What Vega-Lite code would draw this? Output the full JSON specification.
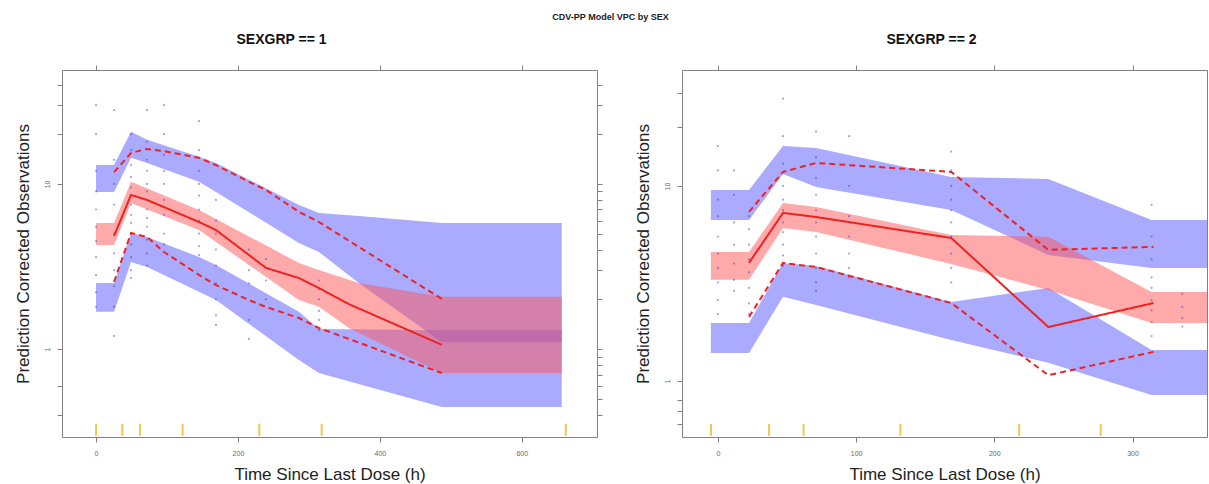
{
"$schema": "https://vega.github.io/schema/vega-lite/v6.json",
"padding": {"left": 13, "right": 0, "top": 13, "bottom": 0},
"title": {"text": "CDV-PP Model VPC by SEX", "fontSize": 9, "fontWeight": "bold", "font": "Liberation Sans", "color": "#222", "anchor": "middle", "offset": 10},
"spacing": 30,
"config": {
  "font": "Liberation Sans",
  "view": {"stroke": "#808080", "strokeWidth": 1},
  "axis": {"domain": false, "grid": false, "tickColor": "#808080", "tickSize": 5, "labelColor": "#666", "labelFontSize": 7, "labelPadding": 7, "titleFontSize": 17, "titleFontWeight": "normal", "titleColor": "#222", "titlePadding": 11, "labelOverlap": false, "labelFlush": false}
},
"datasets": {
  "bands": [
    {"p":1,"b":"hiPI","t":0,"hi":13.0,"lo":8.94},{"p":1,"b":"hiPI","t":25.4,"hi":13.0,"lo":8.94},{"p":1,"b":"hiPI","t":49.3,"hi":20.7,"lo":14.4},{"p":1,"b":"hiPI","t":71.8,"hi":18.5,"lo":13.4},{"p":1,"b":"hiPI","t":145.1,"hi":14.6,"lo":10.3},{"p":1,"b":"hiPI","t":169,"hi":13.4,"lo":8.94},{"p":1,"b":"hiPI","t":285.9,"hi":7.46,"lo":4.39},{"p":1,"b":"hiPI","t":314.1,"hi":6.67,"lo":3.87},{"p":1,"b":"hiPI","t":370.4,"hi":6.40,"lo":2.51},{"p":1,"b":"hiPI","t":487.3,"hi":5.80,"lo":1.10},{"p":1,"b":"hiPI","t":656.3,"hi":5.80,"lo":1.10},
    {"p":1,"b":"med","t":0,"hi":5.80,"lo":4.27},{"p":1,"b":"med","t":25.4,"hi":5.80,"lo":4.27},{"p":1,"b":"med","t":49.3,"hi":10.3,"lo":7.67},{"p":1,"b":"med","t":145.1,"hi":6.96,"lo":5.26},{"p":1,"b":"med","t":285.9,"hi":3.32,"lo":1.98},{"p":1,"b":"med","t":314.1,"hi":3.01,"lo":1.80},{"p":1,"b":"med","t":356.3,"hi":2.63,"lo":1.34},{"p":1,"b":"med","t":370.4,"hi":2.51,"lo":1.25},{"p":1,"b":"med","t":487.3,"hi":2.07,"lo":0.715},{"p":1,"b":"med","t":656.3,"hi":2.07,"lo":0.715},
    {"p":1,"b":"loPI","t":0,"hi":2.51,"lo":1.68},{"p":1,"b":"loPI","t":25.4,"hi":2.51,"lo":1.68},{"p":1,"b":"loPI","t":49.3,"hi":5.05,"lo":3.37},{"p":1,"b":"loPI","t":71.8,"hi":4.77,"lo":3.14},{"p":1,"b":"loPI","t":145.1,"hi":3.61,"lo":2.22},{"p":1,"b":"loPI","t":169,"hi":3.23,"lo":1.98},{"p":1,"b":"loPI","t":285.9,"hi":1.68,"lo":0.858},{"p":1,"b":"loPI","t":314.1,"hi":1.32,"lo":0.715},{"p":1,"b":"loPI","t":487.3,"hi":1.30,"lo":0.445},{"p":1,"b":"loPI","t":656.3,"hi":1.30,"lo":0.445},
    {"p":2,"b":"hiPI","t":-5.1,"hi":9.54,"lo":6.69},{"p":2,"b":"hiPI","t":22.5,"hi":9.54,"lo":6.69},{"p":2,"b":"hiPI","t":47.1,"hi":16.04,"lo":11.52},{"p":2,"b":"hiPI","t":71.0,"hi":15.66,"lo":9.88},{"p":2,"b":"hiPI","t":168.8,"hi":11.12,"lo":7.53},{"p":2,"b":"hiPI","t":239.1,"hi":10.86,"lo":4.43},{"p":2,"b":"hiPI","t":313.8,"hi":6.69,"lo":3.80},{"p":2,"b":"hiPI","t":380,"hi":6.69,"lo":3.80},
    {"p":2,"b":"med","t":-5.1,"hi":4.59,"lo":3.30},{"p":2,"b":"med","t":22.5,"hi":4.59,"lo":3.30},{"p":2,"b":"med","t":47.1,"hi":8.18,"lo":6.09},{"p":2,"b":"med","t":71.0,"hi":7.80,"lo":5.81},{"p":2,"b":"med","t":168.8,"hi":5.61,"lo":3.98},{"p":2,"b":"med","t":239.1,"hi":5.48,"lo":2.93},{"p":2,"b":"med","t":313.8,"hi":2.86,"lo":1.98},{"p":2,"b":"med","t":380,"hi":2.86,"lo":1.98},
    {"p":2,"b":"loPI","t":-5.1,"hi":1.98,"lo":1.39},{"p":2,"b":"loPI","t":22.5,"hi":1.98,"lo":1.39},{"p":2,"b":"loPI","t":47.1,"hi":4.03,"lo":2.70},{"p":2,"b":"loPI","t":71.0,"hi":3.89,"lo":2.45},{"p":2,"b":"loPI","t":168.8,"hi":2.54,"lo":1.62},{"p":2,"b":"loPI","t":239.1,"hi":3.00,"lo":1.24},{"p":2,"b":"loPI","t":313.8,"hi":1.44,"lo":0.848},{"p":2,"b":"loPI","t":380,"hi":1.44,"lo":0.848}
  ],
  "lines": [
    {"p":1,"s":"med","t":25.4,"v":4.84},{"p":1,"s":"med","t":49.3,"v":8.58},{"p":1,"s":"med","t":71.8,"v":8.0},{"p":1,"s":"med","t":145.1,"v":5.88},{"p":1,"s":"med","t":169,"v":5.26},{"p":1,"s":"med","t":239.4,"v":3.10},{"p":1,"s":"med","t":285.9,"v":2.69},{"p":1,"s":"med","t":314.1,"v":2.34},{"p":1,"s":"med","t":356.3,"v":1.87},{"p":1,"s":"med","t":487.3,"v":1.06},
    {"p":1,"s":"p95","t":25.4,"v":11.8},{"p":1,"s":"p95","t":49.3,"v":15.4},{"p":1,"s":"p95","t":71.8,"v":16.3},{"p":1,"s":"p95","t":95.8,"v":15.8},{"p":1,"s":"p95","t":145.1,"v":14.4},{"p":1,"s":"p95","t":169,"v":13.0},{"p":1,"s":"p95","t":215.5,"v":10.3},{"p":1,"s":"p95","t":239.4,"v":9.2},{"p":1,"s":"p95","t":285.9,"v":6.77},{"p":1,"s":"p95","t":314.1,"v":5.88},{"p":1,"s":"p95","t":487.3,"v":2.01},
    {"p":1,"s":"p05","t":25.4,"v":2.55},{"p":1,"s":"p05","t":49.3,"v":5.05},{"p":1,"s":"p05","t":71.8,"v":4.77},{"p":1,"s":"p05","t":95.8,"v":3.87},{"p":1,"s":"p05","t":145.1,"v":2.81},{"p":1,"s":"p05","t":169,"v":2.44},{"p":1,"s":"p05","t":215.5,"v":1.98},{"p":1,"s":"p05","t":239.4,"v":1.80},{"p":1,"s":"p05","t":285.9,"v":1.54},{"p":1,"s":"p05","t":314.1,"v":1.34},{"p":1,"s":"p05","t":487.3,"v":0.715},
    {"p":2,"s":"med","t":22.5,"v":4.03},{"p":2,"s":"med","t":47.1,"v":7.27},{"p":2,"s":"med","t":71.0,"v":6.93},{"p":2,"s":"med","t":168.8,"v":5.41},{"p":2,"s":"med","t":239.1,"v":1.89},{"p":2,"s":"med","t":315.2,"v":2.51},
    {"p":2,"s":"p95","t":22.5,"v":7.36},{"p":2,"s":"p95","t":47.1,"v":11.8},{"p":2,"s":"p95","t":71.0,"v":13.12},{"p":2,"s":"p95","t":168.8,"v":11.8},{"p":2,"s":"p95","t":239.1,"v":4.70},{"p":2,"s":"p95","t":315.2,"v":4.87},
    {"p":2,"s":"p05","t":22.5,"v":2.13},{"p":2,"s":"p05","t":47.1,"v":4.03},{"p":2,"s":"p05","t":71.0,"v":3.84},{"p":2,"s":"p05","t":168.8,"v":2.51},{"p":2,"s":"p05","t":239.1,"v":1.07},{"p":2,"s":"p05","t":315.2,"v":1.41}
  ],
  "bins": [
    {"p":1,"t":0},{"p":1,"t":37},{"p":1,"t":62},{"p":1,"t":122},{"p":1,"t":230},{"p":1,"t":318},{"p":1,"t":662},
    {"p":2,"t":-5},{"p":2,"t":37},{"p":2,"t":62},{"p":2,"t":132},{"p":2,"t":218},{"p":2,"t":277}
  ],
  "obs": [
    {"p":1,"t":0,"v":30},{"p":1,"t":0,"v":20},{"p":1,"t":0,"v":12},{"p":1,"t":0,"v":9},{"p":1,"t":0,"v":7},{"p":1,"t":0,"v":5.5},{"p":1,"t":0,"v":4.5},{"p":1,"t":0,"v":3.6},{"p":1,"t":0,"v":2.8},{"p":1,"t":0,"v":2.2},{"p":1,"t":0,"v":1.8},
    {"p":1,"t":25.4,"v":28},{"p":1,"t":25.4,"v":14},{"p":1,"t":25.4,"v":10},{"p":1,"t":25.4,"v":7.5},{"p":1,"t":25.4,"v":5},{"p":1,"t":25.4,"v":3.8},{"p":1,"t":25.4,"v":3},{"p":1,"t":25.4,"v":2.4},{"p":1,"t":25.4,"v":1.8},{"p":1,"t":25.4,"v":1.2},
    {"p":1,"t":49.3,"v":20},{"p":1,"t":49.3,"v":16},{"p":1,"t":49.3,"v":13},{"p":1,"t":49.3,"v":11},{"p":1,"t":49.3,"v":9.5},{"p":1,"t":49.3,"v":8.5},{"p":1,"t":49.3,"v":7.5},{"p":1,"t":49.3,"v":6.5},{"p":1,"t":49.3,"v":5.8},{"p":1,"t":49.3,"v":5},{"p":1,"t":49.3,"v":4.3},{"p":1,"t":49.3,"v":3.6},{"p":1,"t":49.3,"v":3},{"p":1,"t":49.3,"v":2.7},
    {"p":1,"t":71.8,"v":28},{"p":1,"t":71.8,"v":18},{"p":1,"t":71.8,"v":14},{"p":1,"t":71.8,"v":12},{"p":1,"t":71.8,"v":10},{"p":1,"t":71.8,"v":9},{"p":1,"t":71.8,"v":8},{"p":1,"t":71.8,"v":7},{"p":1,"t":71.8,"v":6.2},{"p":1,"t":71.8,"v":5.5},{"p":1,"t":71.8,"v":4.6},{"p":1,"t":71.8,"v":3.8},{"p":1,"t":71.8,"v":3.2},
    {"p":1,"t":95.8,"v":30},{"p":1,"t":95.8,"v":20},{"p":1,"t":95.8,"v":15},{"p":1,"t":95.8,"v":12},{"p":1,"t":95.8,"v":10},{"p":1,"t":95.8,"v":8},{"p":1,"t":95.8,"v":6.5},{"p":1,"t":95.8,"v":5},{"p":1,"t":95.8,"v":4.3},
    {"p":1,"t":145.1,"v":24},{"p":1,"t":145.1,"v":16},{"p":1,"t":145.1,"v":12},{"p":1,"t":145.1,"v":10},{"p":1,"t":145.1,"v":8.5},{"p":1,"t":145.1,"v":7},{"p":1,"t":145.1,"v":6},{"p":1,"t":145.1,"v":5},{"p":1,"t":145.1,"v":4.2},{"p":1,"t":145.1,"v":3.7},
    {"p":1,"t":169,"v":8},{"p":1,"t":169,"v":6},{"p":1,"t":169,"v":5},{"p":1,"t":169,"v":4},{"p":1,"t":169,"v":3.2},{"p":1,"t":169,"v":2.5},{"p":1,"t":169,"v":2},{"p":1,"t":169,"v":1.6},{"p":1,"t":169,"v":1.4},
    {"p":1,"t":215.5,"v":4},{"p":1,"t":215.5,"v":3},{"p":1,"t":215.5,"v":2.5},{"p":1,"t":215.5,"v":1.5},{"p":1,"t":215.5,"v":1.15},
    {"p":1,"t":239.4,"v":3.5},{"p":1,"t":239.4,"v":2.6},{"p":1,"t":239.4,"v":2},
    {"p":1,"t":314.1,"v":2.6},{"p":1,"t":314.1,"v":2.3},{"p":1,"t":314.1,"v":2},{"p":1,"t":314.1,"v":1.7},{"p":1,"t":314.1,"v":1.5},{"p":1,"t":314.1,"v":1.3},
    {"p":2,"t":0,"v":16},{"p":2,"t":0,"v":12},{"p":2,"t":0,"v":8.5},{"p":2,"t":0,"v":7},{"p":2,"t":0,"v":5.5},{"p":2,"t":0,"v":4.5},{"p":2,"t":0,"v":3.8},{"p":2,"t":0,"v":3.2},{"p":2,"t":0,"v":2.6},{"p":2,"t":0,"v":2.2},
    {"p":2,"t":11.6,"v":12},{"p":2,"t":11.6,"v":9},{"p":2,"t":11.6,"v":6.5},{"p":2,"t":11.6,"v":5},{"p":2,"t":11.6,"v":4},{"p":2,"t":11.6,"v":3.3},{"p":2,"t":11.6,"v":2.9},
    {"p":2,"t":22.5,"v":7},{"p":2,"t":22.5,"v":6},{"p":2,"t":22.5,"v":5},{"p":2,"t":22.5,"v":4.2},{"p":2,"t":22.5,"v":3.6},{"p":2,"t":22.5,"v":3},{"p":2,"t":22.5,"v":2.5},{"p":2,"t":22.5,"v":2.2},
    {"p":2,"t":47.1,"v":28},{"p":2,"t":47.1,"v":18},{"p":2,"t":47.1,"v":13},{"p":2,"t":47.1,"v":10},{"p":2,"t":47.1,"v":8.5},{"p":2,"t":47.1,"v":7.5},{"p":2,"t":47.1,"v":6.5},{"p":2,"t":47.1,"v":5.8},{"p":2,"t":47.1,"v":5},{"p":2,"t":47.1,"v":4.4},{"p":2,"t":47.1,"v":3.9},
    {"p":2,"t":71,"v":19},{"p":2,"t":71,"v":14},{"p":2,"t":71,"v":11},{"p":2,"t":71,"v":9},{"p":2,"t":71,"v":7.5},{"p":2,"t":71,"v":6.5},{"p":2,"t":71,"v":5.5},{"p":2,"t":71,"v":4.5},{"p":2,"t":71,"v":3.8},{"p":2,"t":71,"v":3.2},{"p":2,"t":71,"v":2.9},
    {"p":2,"t":94.9,"v":18},{"p":2,"t":94.9,"v":10},{"p":2,"t":94.9,"v":7},{"p":2,"t":94.9,"v":5.5},{"p":2,"t":94.9,"v":4.5},{"p":2,"t":94.9,"v":3.8},{"p":2,"t":94.9,"v":3.4},
    {"p":2,"t":168.8,"v":15},{"p":2,"t":168.8,"v":12},{"p":2,"t":168.8,"v":10},{"p":2,"t":168.8,"v":8.5},{"p":2,"t":168.8,"v":7.5},{"p":2,"t":168.8,"v":6.5},{"p":2,"t":168.8,"v":5.5},{"p":2,"t":168.8,"v":4.5},{"p":2,"t":168.8,"v":3.8},{"p":2,"t":168.8,"v":3.2},
    {"p":2,"t":313.8,"v":8},{"p":2,"t":313.8,"v":5.5},{"p":2,"t":313.8,"v":4.2},{"p":2,"t":313.8,"v":3.4},{"p":2,"t":313.8,"v":3},{"p":2,"t":313.8,"v":2.6},{"p":2,"t":313.8,"v":2.3},{"p":2,"t":313.8,"v":2},{"p":2,"t":313.8,"v":1.7},
    {"p":2,"t":336,"v":2.8},{"p":2,"t":336,"v":2.4},{"p":2,"t":336,"v":2.1},{"p":2,"t":336,"v":1.9}
  ]
},
"hconcat": [
  {
    "width": 535, "height": 367,
    "title": {"text": "SEXGRP == 1", "fontSize": 14, "fontWeight": "bold", "font": "Liberation Sans", "color": "#111", "dx": -48, "offset": 18},
    "resolve": {"axis": {"x": "independent", "y": "independent"}},
    "layer": [
      {
        "data": {"name": "bands"}, "transform": [{"filter": "datum.p == 1 && datum.b != 'med'"}],
        "mark": {"type": "area", "color": "#5555ff", "opacity": 0.5, "clip": true},
        "encoding": {
          "x": {"field": "t", "type": "quantitative", "scale": {"domain": [-48, 706], "nice": false, "zero": false},
                "axis": {"orient": "bottom", "values": [0, 200, 400, 600], "format": "d", "title": "Time Since Last Dose (h)", "titlePadding": 10}},
          "y": {"field": "hi", "type": "quantitative", "scale": {"type": "log", "domain": [0.293, 49], "nice": false},
                "axis": {"orient": "left", "values": [0.4, 0.6, 1, 10, 20, 30, 40], "labelExpr": "datum.value == 1 || datum.value == 10 ? format(datum.value, 'd') : ''", "labelAngle": -90, "labelAlign": "center", "labelBaseline": "bottom", "title": "Prediction Corrected Observations"}},
          "y2": {"field": "lo"},
          "detail": {"field": "b"}
        }
      },
      {
        "data": {"name": "bands"}, "transform": [{"filter": "datum.p == 1 && datum.b == 'med'"}],
        "mark": {"type": "area", "color": "#ff5555", "opacity": 0.5, "clip": true},
        "encoding": {
          "x": {"field": "t", "type": "quantitative", "axis": null},
          "y": {"field": "hi", "type": "quantitative", "axis": null},
          "y2": {"field": "lo"}
        }
      },
      {
        "data": {"name": "obs"}, "transform": [{"filter": "datum.p == 1"}],
        "mark": {"type": "point", "filled": true, "size": 5, "color": "#3333cc", "opacity": 0.45, "clip": true},
        "encoding": {
          "x": {"field": "t", "type": "quantitative", "axis": {"orient": "top", "values": [0, 200, 400, 600], "labels": false, "title": null}},
          "y": {"field": "v", "type": "quantitative", "axis": {"orient": "right", "values": [0.4, 0.5, 0.6, 0.7, 0.8, 0.9, 1, 2, 3, 4, 5, 6, 7, 8, 9, 10, 20, 30, 40], "labels": false, "title": null}}
        }
      },
      {
        "data": {"name": "lines"}, "transform": [{"filter": "datum.p == 1"}],
        "mark": {"type": "line", "color": "#ee2222", "strokeWidth": 2, "clip": true},
        "encoding": {
          "x": {"field": "t", "type": "quantitative", "axis": null},
          "y": {"field": "v", "type": "quantitative", "axis": null},
          "detail": {"field": "s"},
          "strokeDash": {"field": "s", "type": "nominal", "scale": {"domain": ["med", "p95", "p05"], "range": [[1, 0], [6, 4], [6, 4]]}, "legend": null}
        }
      },
      {
        "data": {"name": "bins"}, "transform": [{"filter": "datum.p == 1"}],
        "mark": {"type": "tick", "orient": "vertical", "color": "#f0b000", "thickness": 2, "size": 12},
        "encoding": {
          "x": {"field": "t", "type": "quantitative", "axis": null},
          "y": {"datum": 0.324, "type": "quantitative", "axis": null}
        }
      }
    ]
  },
  {
    "width": 525, "height": 367,
    "title": {"text": "SEXGRP == 2", "fontSize": 14, "fontWeight": "bold", "font": "Liberation Sans", "color": "#111", "dx": -13, "offset": 18},
    "resolve": {"axis": {"x": "independent", "y": "independent"}},
    "layer": [
      {
        "data": {"name": "bands"}, "transform": [{"filter": "datum.p == 2 && datum.b != 'med'"}],
        "mark": {"type": "area", "color": "#5555ff", "opacity": 0.5, "clip": true},
        "encoding": {
          "x": {"field": "t", "type": "quantitative", "scale": {"domain": [-26, 353.9], "nice": false, "zero": false},
                "axis": {"orient": "bottom", "values": [0, 100, 200, 300], "format": "d", "title": "Time Since Last Dose (h)", "titlePadding": 10}},
          "y": {"field": "hi", "type": "quantitative", "scale": {"type": "log", "domain": [0.516, 39.3], "nice": false},
                "axis": {"orient": "left", "values": [0.6, 0.7, 0.8, 1, 10, 20, 30], "labelExpr": "datum.value == 1 || datum.value == 10 ? format(datum.value, 'd') : ''", "labelAngle": -90, "labelAlign": "center", "labelBaseline": "bottom", "title": "Prediction Corrected Observations"}},
          "y2": {"field": "lo"},
          "detail": {"field": "b"}
        }
      },
      {
        "data": {"name": "bands"}, "transform": [{"filter": "datum.p == 2 && datum.b == 'med'"}],
        "mark": {"type": "area", "color": "#ff5555", "opacity": 0.5, "clip": true},
        "encoding": {
          "x": {"field": "t", "type": "quantitative", "axis": null},
          "y": {"field": "hi", "type": "quantitative", "axis": null},
          "y2": {"field": "lo"}
        }
      },
      {
        "data": {"name": "obs"}, "transform": [{"filter": "datum.p == 2"}],
        "mark": {"type": "point", "filled": true, "size": 5, "color": "#3333cc", "opacity": 0.45, "clip": true},
        "encoding": {
          "x": {"field": "t", "type": "quantitative", "axis": {"orient": "top", "values": [0, 100, 200, 300], "labels": false, "title": null}},
          "y": {"field": "v", "type": "quantitative", "axis": null}
        }
      },
      {
        "data": {"name": "lines"}, "transform": [{"filter": "datum.p == 2"}],
        "mark": {"type": "line", "color": "#ee2222", "strokeWidth": 2, "clip": true},
        "encoding": {
          "x": {"field": "t", "type": "quantitative", "axis": null},
          "y": {"field": "v", "type": "quantitative", "axis": null},
          "detail": {"field": "s"},
          "strokeDash": {"field": "s", "type": "nominal", "scale": {"domain": ["med", "p95", "p05"], "range": [[1, 0], [6, 4], [6, 4]]}, "legend": null}
        }
      },
      {
        "data": {"name": "bins"}, "transform": [{"filter": "datum.p == 2"}],
        "mark": {"type": "tick", "orient": "vertical", "color": "#f0b000", "thickness": 2, "size": 12},
        "encoding": {
          "x": {"field": "t", "type": "quantitative", "axis": null},
          "y": {"datum": 0.561, "type": "quantitative", "axis": null}
        }
      }
    ]
  }
]
}
